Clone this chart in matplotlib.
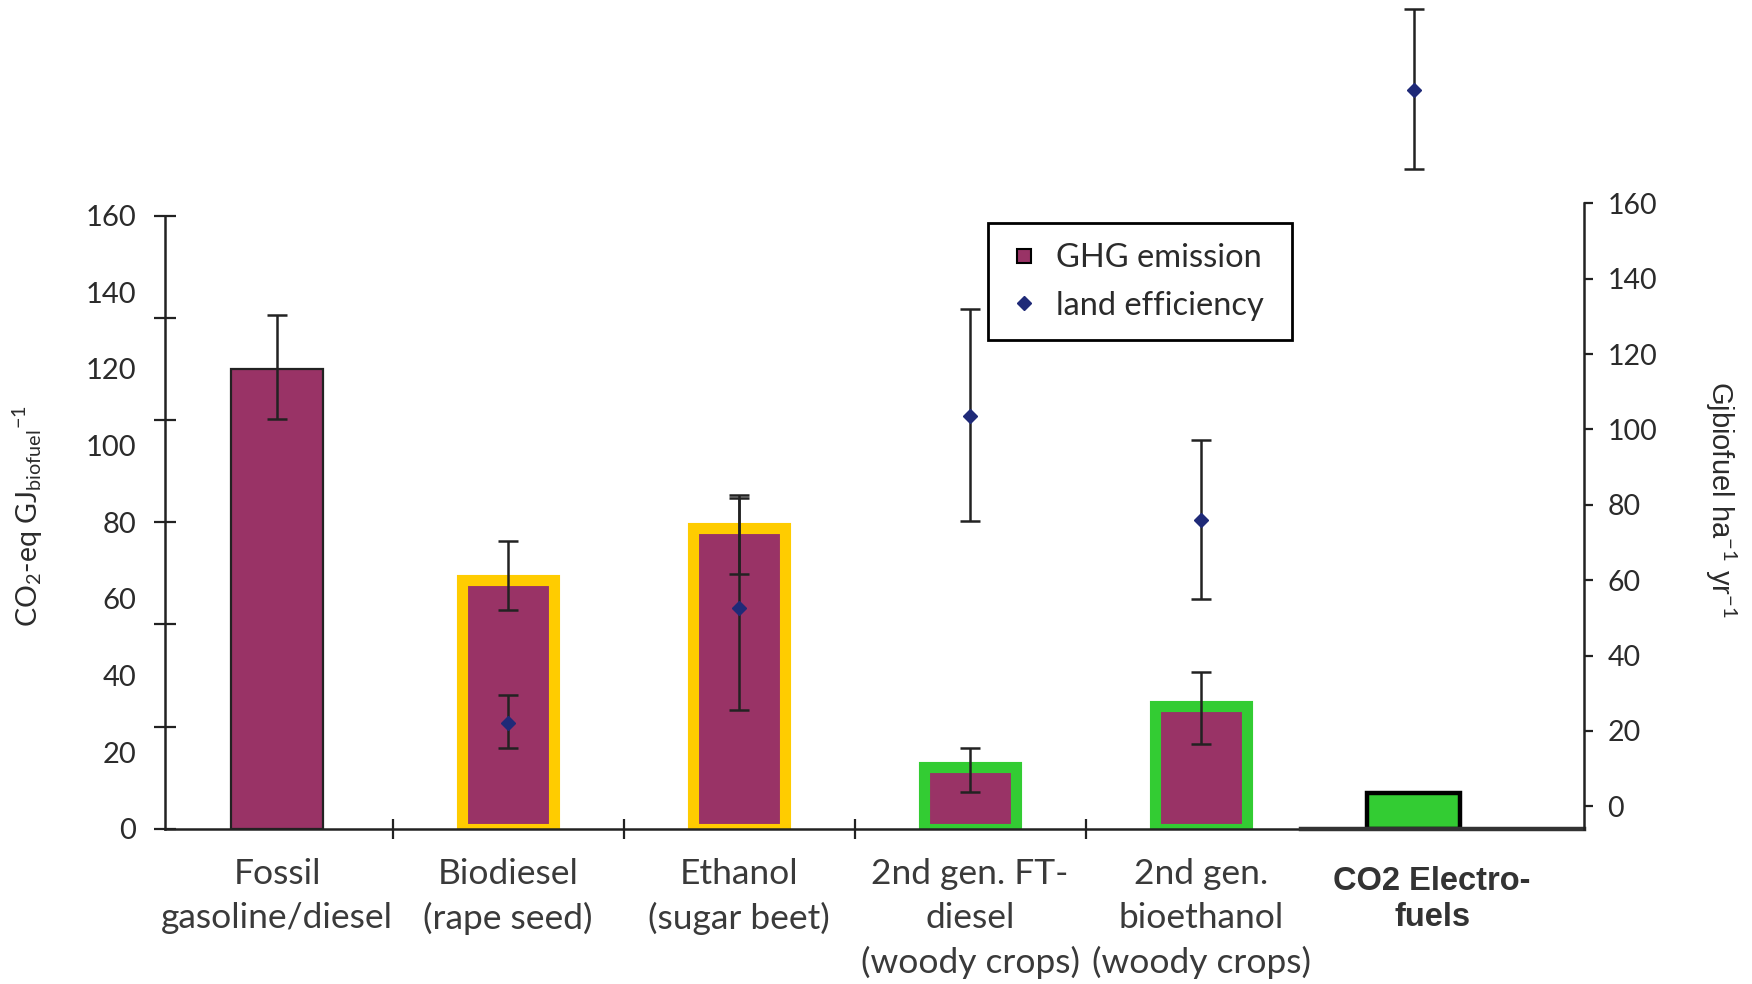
import numpy as np
import matplotlib.pyplot as plt
from matplotlib.lines import Line2D
from matplotlib.transforms import blended_transform_factory

plt.rcParams['font.family'] = ['Lato', 'DejaVu Sans']
plt.rcParams['mathtext.fontset'] = 'custom'
plt.rcParams['mathtext.rm'] = 'Lato'
plt.rcParams['mathtext.it'] = 'Lato:italic'

categories = ['Fossil\ngasoline/diesel', 'Biodiesel\n(rape seed)', 'Ethanol\n(sugar beet)',
              '2nd gen. FT-\ndiesel\n(woody crops)', '2nd gen.\nbioethanol\n(woody crops)',
              'CO2 Electro-\nfuels']
# GHG emission, kg CO2-eq per GJ (left axis)
ghg = np.array([120, 65, 78.5, 16, 32, 9.3])
ghg_err_hi = np.array([14, 10, 8.5, 5, 9, 0])
ghg_err_lo = np.array([13, 8, 12, 6.5, 10, 0])
# land efficiency, GJ per ha per yr (right axis)
land = np.array([np.nan, 22, 52.7, 103.6, 76, 190])
land_err_hi = np.array([0, 7.5, 29, 28.4, 21.3, 21.5])
land_err_lo = np.array([0, 6.5, 27, 28, 21, 21])

purple = '#993366'
navy = '#1F2A78'
ink = '#222222'
frame_col = {1: '#FFCC00', 2: '#FFCC00', 3: '#33CC33', 4: '#33CC33'}

x = np.arange(len(categories), dtype=float)
x_bar = x.copy()
x_bar[-1] -= 0.08   # electro-fuel bar sits a little left of its label

fig = plt.figure(figsize=(17.52, 9.84), dpi=100)
ax = fig.add_axes([0.0944, 0.1578, 0.8099, 0.8422])
ax.set_xlim(-0.4837, 5.659)
ax.set_ylim(0, 216.25)

# bars: plain, framed (yellow / green) and the green electro-fuel one
for i in range(len(categories)):
    if i in frame_col:
        ax.bar(x_bar[i], ghg[i], width=0.40, color=purple, edgecolor=frame_col[i],
               linewidth=8, zorder=2)
    elif i == len(categories) - 1:
        ax.bar(x_bar[i], ghg[i], width=0.40, color='#33CC33', edgecolor='black',
               linewidth=3.2, zorder=2)
    else:
        ax.bar(x_bar[i], ghg[i], width=0.40, color=purple, edgecolor=ink,
               linewidth=1.6, zorder=2)

m = ghg_err_hi > 0
ax.errorbar(x_bar[m], ghg[m], yerr=[ghg_err_lo[m], ghg_err_hi[m]], fmt='none',
            ecolor=ink, elinewidth=1.8, capsize=7, capthick=1.8, zorder=4)

for s in ['top', 'right']:
    ax.spines[s].set_visible(False)
ax.spines['left'].set_bounds(0, 160)
ax.spines['bottom'].set_bounds(-0.4837, 4.435)
for s in ['left', 'bottom']:
    ax.spines[s].set_color(ink)
    ax.spines[s].set_linewidth(1.8)
ax.axhline(0, xmin=0.80, xmax=1.0, color='#333333', linewidth=3.2, zorder=3,
           clip_on=False)

ax.set_yticks(np.arange(0, 161, 20))
ax.set_yticks(np.linspace(0, 160, 7), minor=True)
ax.yaxis.remove_overlapping_locs = False
ax.tick_params(axis='y', which='major', length=0, pad=21, labelsize=21, labelcolor='#2b2b2b')
ax.tick_params(axis='y', which='minor', direction='inout', length=16, width=1.6, color=ink)

ax.set_xticks(x)
ax.set_xticklabels(categories[:-1] + [''])
ax.set_xticks(x[:4] + 0.5, minor=True)
ax.tick_params(axis='x', which='major', length=0, pad=21, labelsize=25.5, labelcolor='#3a3a3a')
ax.tick_params(axis='x', which='minor', direction='inout', length=14, width=1.6, color=ink)
for t in ax.get_xticklabels():
    t.set_linespacing(1.45)

# the electro-fuel label is set in a different, bold face
trans = blended_transform_factory(ax.transData, ax.transAxes)
ax.text(x[-1], -0.045, categories[-1], transform=trans, ha='center', va='top',
        fontsize=23.5, fontweight='bold', color='#333333', linespacing=1.2,
        family=['Liberation Sans', 'DejaVu Sans'])

# right axis for land efficiency
ax2 = ax.twinx()
ax2.set_ylim(-5.926, 213.93)
for s in ['left', 'top', 'bottom']:
    ax2.spines[s].set_visible(False)
ax2.spines['right'].set_bounds(-5.926, 160)
ax2.spines['right'].set_color(ink)
ax2.spines['right'].set_linewidth(1.8)
ax2.set_yticks(np.arange(0, 161, 20))
ax2.tick_params(axis='y', direction='out', length=6.5, width=1.6, color=ink,
                pad=10, labelsize=20.5, labelcolor='#2b2b2b')

ml = ~np.isnan(land)
ax2.errorbar(x_bar[ml], land[ml], yerr=[land_err_lo[ml], land_err_hi[ml]], fmt='none',
             ecolor=ink, elinewidth=1.8, capsize=7, capthick=1.8, zorder=4,
             clip_on=False)
ax2.plot(x_bar[ml], land[ml], linestyle='none', marker='D', markersize=7,
         color=navy, zorder=5, clip_on=False)

handles = [Line2D([], [], linestyle='none', marker='s', markersize=10,
                  markerfacecolor=purple, markeredgecolor='black', markeredgewidth=1.5),
           Line2D([], [], linestyle='none', marker='D', markersize=7, color=navy)]
leg = ax2.legend(handles, ['GHG emission', 'land efficiency '], loc='upper left',
                 bbox_to_anchor=(0.5795, 0.7305), fontsize=23.5, frameon=True,
                 fancybox=False, framealpha=1, edgecolor='black', handlelength=1.0,
                 handletextpad=0.5, borderpad=0.6, labelspacing=0.55, borderaxespad=0)
leg.get_frame().set_linewidth(2)
for t in leg.get_texts():
    t.set_color('#2b2b2b')

fig.text(0.016, 0.4756, 'CO$_2$-eq GJ$_{\\mathrm{biofuel}}$$^{-1}$', rotation=90,
         ha='center', va='center', fontsize=20.5, color='#2b2b2b')
fig.text(0.982, 0.4926, 'Gjbiofuel ha$^{-1}$ yr$^{-1}$', rotation=270,
         ha='center', va='center', fontsize=21, color='#2b2b2b',
         family=['Liberation Sans Narrow', 'Liberation Sans', 'DejaVu Sans'])

fig.savefig('out.png', dpi=100)
